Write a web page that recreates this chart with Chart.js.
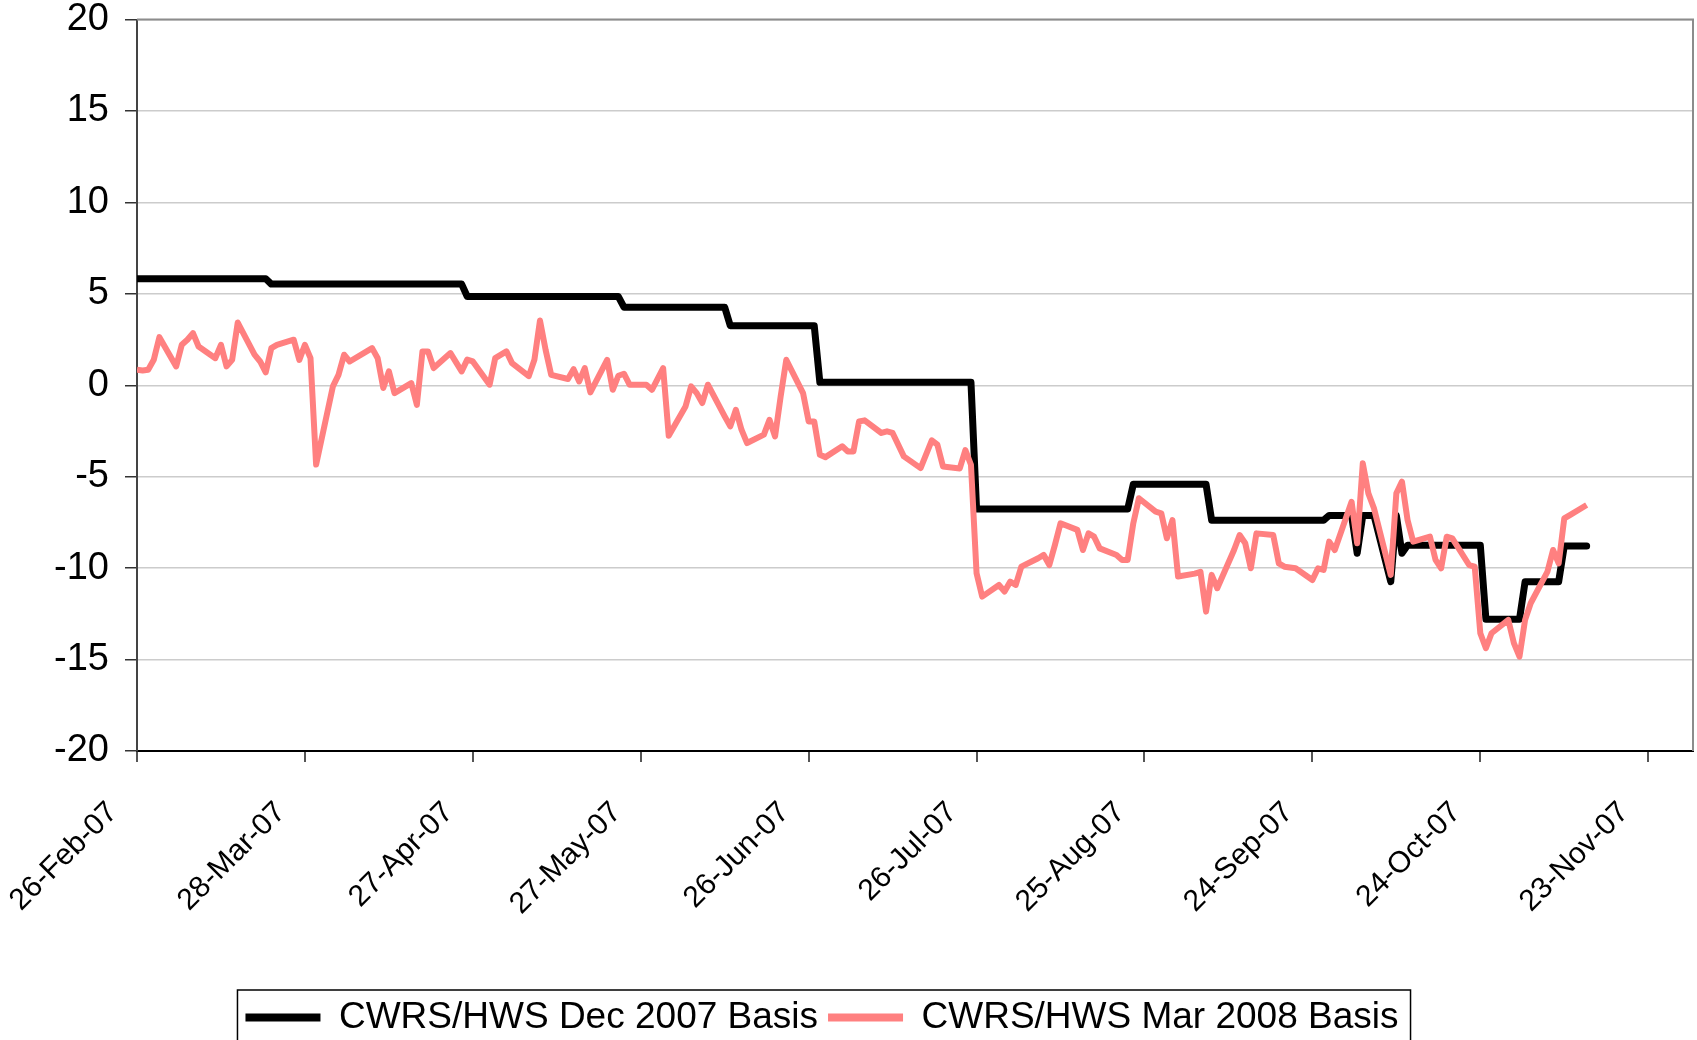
<!DOCTYPE html>
<html lang="en">
  <head>
    <meta charset="UTF-8" />
    <title>CWRS/HWS Basis</title>
    <script src="https://cdn.jsdelivr.net/npm/chart.js"></script>
    <style>
      html, body { margin: 0; padding: 0; background: #fff; }
      #wrap { width: 1697px; height: 1040px; position: relative; }
    </style>
  </head>
  <body>
    <div id="wrap"><canvas id="basisChart"></canvas></div>

    <script>
      // x values are days counted from 26-Feb-07 (trading days only)
      const tickLabels = ["26-Feb-07", "28-Mar-07", "27-Apr-07", "27-May-07", "26-Jun-07",
        "26-Jul-07", "25-Aug-07", "24-Sep-07", "24-Oct-07", "23-Nov-07"];

      // Dec 2007 basis - moves in steps
      const decDays = [0, 23, 24, 58, 59, 86, 87, 105, 106, 121, 122, 149, 150, 177, 178,
        191, 192, 212, 213, 217, 218, 219, 221, 224, 225, 226, 227, 240, 241, 247, 248,
        254, 255, 259];
      const decBasis = [5.82, 5.82, 5.53, 5.53, 4.85, 4.85, 4.27, 4.27, 3.25, 3.25, 0.16,
        0.16, -6.77, -6.77, -5.42, -5.42, -7.38, -7.38, -7.12, -7.12, -9.19, -7.12, -7.12,
        -10.74, -7.12, -9.19, -8.75, -8.75, -12.8, -12.8, -10.74, -10.74, -8.79, -8.79];

      // Mar 2008 basis
      const marDays = [0, 1, 2, 3, 4, 7, 8, 9, 10, 11, 14, 15, 16, 17, 18, 21, 22, 23, 24, 25,
        28, 29, 30, 31, 32, 35, 36, 37, 38, 42, 43, 44, 45, 46, 49, 50, 51, 52, 53, 56, 58,
        59, 60, 63, 64, 66, 67, 70, 71, 72, 73, 74, 77, 78, 79, 80, 81, 84, 85, 86, 87, 88,
        91, 92, 94, 95, 98, 99, 100, 101, 102, 105, 106, 107, 108, 109, 112, 113, 114, 115,
        116, 119, 120, 121, 122, 123, 126, 127, 128, 129, 130, 133, 134, 135, 137, 140, 142,
        143, 144, 147, 148, 149, 150, 151, 154, 155, 156, 157, 158, 161, 162, 163, 164, 165,
        168, 169, 170, 171, 172, 175, 176, 177, 178, 179, 182, 183, 184, 185, 186, 189, 190,
        191, 192, 193, 196, 197, 198, 199, 200, 203, 204, 205, 207, 210, 211, 212, 213, 214,
        217, 218, 219, 220, 221, 224, 225, 226, 227, 228, 231, 232, 233, 234, 235, 238, 239,
        240, 241, 242, 245, 246, 247, 248, 249, 252, 253, 254, 255, 256, 259];
      const marBasis = [0.85, 0.81, 0.85, 1.39, 2.63, 1.03, 2.21, 2.49, 2.85, 2.12, 1.48, 2.21,
        1.03, 1.39, 3.43, 1.67, 1.3, 0.7, 2.03, 2.21, 2.49, 1.39, 2.21, 1.48, -4.34, -0.06,
        0.57, 1.67, 1.3, 2.03, 1.48, -0.15, 0.76, -0.43, 0.12, -1.07, 1.85, 1.85, 0.94, 1.76,
        0.76, 1.4, 1.3, 0.03, 1.48, 1.85, 1.21, 0.5, 1.39, 3.54, 1.94, 0.57, 0.34, 0.88, 0.21,
        0.94, -0.39, 1.39, -0.25, 0.52, 0.63, 0.03, 0.03, -0.25, 0.94, -2.76, -1.16, -0.06,
        -0.43, -0.97, 0.03, -1.7, -2.25, -1.34, -2.43, -3.16, -2.7, -1.89, -2.8, -0.61, 1.39,
        -0.43, -1.98, -1.98, -3.8, -3.93, -3.34, -3.62, -3.62, -1.98, -1.92, -2.61, -2.52,
        -2.61, -3.89, -4.53, -3.01, -3.25, -4.44, -4.55, -3.55, -4.35, -10.28, -11.56, -10.92,
        -11.28, -10.74, -10.92, -9.92, -9.46, -9.28, -9.83, -8.73, -7.55, -7.91, -9.01, -8.1,
        -8.28, -8.92, -9.28, -9.55, -9.55, -7.55, -6.18, -6.91, -7.0, -8.37, -7.37, -10.46,
        -10.3, -10.2, -12.38, -10.37, -11.1, -9.01, -8.19, -8.64, -10.01, -8.1, -8.19, -9.74,
        -9.92, -10.01, -10.65, -10.01, -10.1, -8.55, -9.01, -6.37, -8.64, -4.27, -5.91, -6.73,
        -10.37, -5.91, -5.27, -7.37, -8.55, -8.28, -9.55, -10.01, -8.28, -8.37, -9.83, -9.92,
        -13.56, -14.38, -13.56, -12.83, -14.1, -14.84, -12.83, -11.92, -10.19, -9.01, -9.74,
        -7.28, -7.1, -6.55];

      const toPoints = (days, vals) => days.map((d, i) => ({ x: d, y: vals[i] }));
      const fontFamily = "'Liberation Sans', Arial, sans-serif";

      // top/right frame of the plot area and the box round the legend
      const framePlugin = {
        id: "frame",
        afterLayout(chart) {
          chart.legend.left -= 49;
        },
        afterDraw(chart) {
          const { ctx, chartArea } = chart;
          ctx.save();
          ctx.strokeStyle = "#8c8c8c";
          ctx.lineWidth = 2;
          ctx.beginPath();
          ctx.moveTo(chartArea.left, chartArea.top);
          ctx.lineTo(chartArea.right, chartArea.top);
          ctx.lineTo(chartArea.right, chartArea.bottom);
          ctx.stroke();

          const hb = chart.legend.legendHitBoxes;
          if (hb && hb.length) {
            const first = hb[0];
            const last = hb[hb.length - 1];
            ctx.strokeStyle = "#000";
            ctx.lineWidth = 1.5;
            ctx.strokeRect(first.left - 8, first.top - 9,
              last.left + last.width - first.left + 20, 120);
          }
          ctx.restore();
        },
      };

      new Chart(document.getElementById("basisChart"), {
        type: "line",
        data: {
          datasets: [
            {
              label: "CWRS/HWS Dec 2007 Basis",
              data: toPoints(decDays, decBasis),
              borderColor: "#000000",
              backgroundColor: "#000000",
              borderWidth: 7,
              pointRadius: 0,
              tension: 0,
              borderJoinStyle: "round",
              borderCapStyle: "round",
              order: 1,
            },
            {
              label: "CWRS/HWS Mar 2008 Basis",
              data: toPoints(marDays, marBasis),
              borderColor: "#ff8080",
              backgroundColor: "#ff8080",
              borderWidth: 6,
              pointRadius: 0,
              tension: 0,
              borderJoinStyle: "round",
              borderCapStyle: "butt",
              order: 0,
            },
          ],
        },
        options: {
          responsive: true,
          maintainAspectRatio: false,
          animation: false,
          layout: { padding: { top: 19.5, right: 4, bottom: -6, left: 0 } },
          plugins: {
            tooltip: { enabled: false },
            legend: {
              position: "bottom",
              labels: {
                color: "#000",
                font: { family: fontFamily, size: 37 },
                boxWidth: 75,
                boxHeight: 8,
                padding: 10,
                sort: (a, b) => a.datasetIndex - b.datasetIndex,
                generateLabels(chart) {
                  const items = Chart.defaults.plugins.legend.labels.generateLabels(chart);
                  items.forEach((it) => {
                    it.lineWidth = 0;
                    it.fillStyle = it.strokeStyle;
                  });
                  return items;
                },
              },
            },
          },
          scales: {
            x: {
              type: "linear",
              min: 0,
              max: 278,
              afterFit(scale) {
                scale.height = 238;
                scale.paddingLeft = 0;
                scale.paddingRight = 0;
              },
              grid: { drawOnChartArea: false, tickLength: 11, tickColor: "#555", lineWidth: 2 },
              border: { color: "#000", width: 2 },
              ticks: {
                stepSize: 30,
                includeBounds: false,
                autoSkip: false,
                minRotation: 45,
                maxRotation: 45,
                padding: 33,
                labelOffset: -24,
                color: "#000",
                font: { family: fontFamily, size: 30 },
                callback: (v) => tickLabels[Math.round(v / 30)],
              },
            },
            y: {
              min: -20,
              max: 20,
              afterFit(scale) {
                scale.width = 137;
                scale.paddingTop = 0;
                scale.paddingBottom = 0;
              },
              grid: { color: "#cccccc", lineWidth: 1.5, tickLength: 12, tickColor: "#333" },
              border: { color: "#444", width: 2 },
              ticks: {
                stepSize: 5,
                padding: 16,
                color: "#000",
                font: { family: fontFamily, size: 38, lineHeight: 1 },
              },
            },
          },
        },
        plugins: [framePlugin],
      });
    </script>
  </body>
</html>
